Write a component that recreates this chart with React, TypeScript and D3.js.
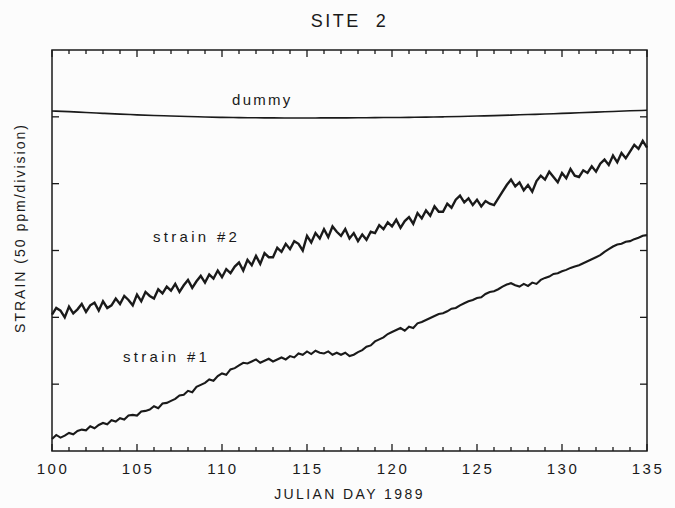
import React from "react";
import * as d3 from "d3";

// Julian day axis
const dayStart = 100;
const dayEnd = 135;
const xTickLabels = [100, 105, 110, 115, 120, 125, 130, 135];

// Strain readings in ppm, sampled every quarter day from day 100 to day 135
const strain2 = [
  102, 107, 105, 100,
  108, 103, 106, 110,
  104, 109, 111, 105,
  112, 107, 109, 114,
  110, 116, 113, 109,
  117, 112, 119, 116,
  114, 121, 118, 123,
  120, 125, 119, 124,
  128, 122, 127, 131,
  126, 132, 129, 135,
  130, 136, 133, 138,
  141, 135, 143, 139,
  146, 140, 148, 145,
  145, 152, 149, 155,
  151, 157, 155, 150,
  161, 156, 163, 159,
  166, 160, 168, 164,
  161, 166, 159, 163,
  157, 162, 158, 164,
  163, 169, 166, 171,
  168, 173, 167, 172,
  175, 170, 178, 174,
  180, 176, 183, 179,
  179, 185, 182, 188,
  191, 186, 189, 184,
  188, 183, 187, 185,
  184, 189, 194, 199,
  203, 198, 201, 195,
  199, 194, 202, 206,
  203, 209, 205, 201,
  208, 204, 211, 206,
  205, 210, 208, 213,
  209, 215, 218, 214,
  221, 216, 223, 219,
  224, 229, 226, 232,
  227,
];

const strain1 = [
  9, 12, 10, 11.5,
  13.5, 12.5, 15, 16,
  15.5, 18.5, 17, 19.5,
  21, 20, 23, 22,
  24.5, 23.5, 26.5, 27,
  26.5, 29.5, 30, 31,
  33.5, 32, 35.5, 36,
  37.5, 39, 41.5, 42,
  45, 44, 48, 49.5,
  51, 53.5, 52.5, 56,
  58, 57, 61, 62,
  64, 66, 65.5, 67,
  68.5, 66, 67.5, 69,
  67, 68.5, 70, 68.5,
  71, 70, 73, 72,
  74.5, 72.5, 75, 73.5,
  73, 74.5, 72, 73.5,
  72, 73.5, 71, 72,
  74, 75.5, 78, 79,
  82, 83.5, 85, 87.5,
  89, 90.5, 92, 90,
  93, 92, 95.5, 96.5,
  98, 99.5, 101, 102.5,
  103, 104.5, 106.5, 107,
  109, 110.5, 112, 113,
  114.5, 115, 117.5, 119,
  119.5, 121, 123, 124.5,
  125.5, 124, 123, 125,
  123.5, 126, 125, 128,
  129.5, 130.5, 132.5, 133,
  134.5, 135.5, 137, 138,
  139, 140.5, 142, 143.5,
  145, 146.5, 149, 151,
  153, 154.5, 155, 156.5,
  157, 158.5, 159.5, 161,
  161.5,
];

// Dummy gauge, one reading per day
const dummy = [
  254.4, 253.9, 253.2, 252.6, 252.0, 251.5, 251.0, 250.6, 250.2, 249.9,
  249.6, 249.4, 249.3, 249.2, 249.1, 249.1, 249.2, 249.2, 249.3, 249.4,
  249.5, 249.6, 249.8, 250.0, 250.3, 250.6, 250.9, 251.3, 251.7, 252.1,
  252.6, 253.0, 253.5, 254.0, 254.5, 254.9,
];

const yDivisions = [0, 50, 100, 150, 200, 250, 300];

const W = 675;
const H = 508;
const left = 52;
const right = 647;
const top = 50;
const bottom = 451;
const midX = (left + right) / 2;
const font = "'Liberation Sans', Arial, sans-serif";
const ink = "#1a1a1a";

export default function App() {
  const x = d3.scaleLinear().domain([dayStart, dayEnd]).range([left, right]);
  const y = d3.scaleLinear().domain([0, 300]).range([bottom, top]);

  const quarter = (i: number) => dayStart + i * 0.25;
  const line = d3
    .line<number>()
    .x((_, i) => x(quarter(i)))
    .y((v) => y(v));
  const dailyLine = d3
    .line<number>()
    .x((_, i) => x(dayStart + i))
    .y((v) => y(v))
    .curve(d3.curveMonotoneX);

  const dayTicks = d3.range(dayStart, dayEnd + 1);

  return (
    <svg
      width={W}
      height={H}
      style={{ position: "absolute", left: 0, top: 0, background: "#fcfcfc" }}
    >
      <rect x={0} y={0} width={W} height={H} fill="#fcfcfc" />
      <text
        x={midX}
        y={27}
        textAnchor="middle"
        fontFamily={font}
        fontSize={18}
        letterSpacing={2.5}
        fill={ink}
        style={{ whiteSpace: "pre" }}
      >
        {"SITE  2"}
      </text>

      {/* day ticks, top and bottom, pointing inward */}
      {dayTicks.map((d) => {
        const major = (d - dayStart) % 5 === 0;
        const len = major ? 7 : 4;
        return (
          <g key={d} stroke={ink} strokeWidth={1.3}>
            <line x1={x(d)} x2={x(d)} y1={bottom} y2={bottom - len} />
            <line x1={x(d)} x2={x(d)} y1={top} y2={top + len} />
          </g>
        );
      })}

      {/* strain division ticks, left and right */}
      {yDivisions.slice(1, -1).map((v) => (
        <g key={v} stroke={ink} strokeWidth={1.3}>
          <line x1={left} x2={left + 7} y1={y(v)} y2={y(v)} />
          <line x1={right} x2={right - 7} y1={y(v)} y2={y(v)} />
        </g>
      ))}

      <rect
        x={left}
        y={top}
        width={right - left}
        height={bottom - top}
        fill="none"
        stroke={ink}
        strokeWidth={1.5}
      />

      {xTickLabels.map((d) => (
        <text
          key={d}
          x={x(d) + 1}
          y={474}
          textAnchor="middle"
          fontFamily={font}
          fontSize={15}
          letterSpacing={2.5}
          fill={ink}
        >
          {d}
        </text>
      ))}

      <text
        x={midX}
        y={499}
        textAnchor="middle"
        fontFamily={font}
        fontSize={14}
        letterSpacing={2.4}
        fill={ink}
      >
        JULIAN DAY 1989
      </text>

      <text
        transform={`translate(25, 228) rotate(-90)`}
        textAnchor="middle"
        fontFamily={font}
        fontSize={14}
        letterSpacing={2}
        fill={ink}
      >
        STRAIN (50 ppm/division)
      </text>

      <path d={dailyLine(dummy) ?? ""} fill="none" stroke={ink} strokeWidth={1.6} />
      <path
        d={line(strain2) ?? ""}
        fill="none"
        stroke={ink}
        strokeWidth={2.4}
        strokeLinejoin="miter"
      />
      <path
        d={line(strain1) ?? ""}
        fill="none"
        stroke={ink}
        strokeWidth={2.1}
        strokeLinejoin="miter"
      />

      <g fontFamily={font} fontSize={15} fill={ink}>
        <text x={232} y={105} letterSpacing={2.3}>dummy</text>
        <text x={153} y={242} letterSpacing={3.3}>strain #2</text>
        <text x={123} y={362} letterSpacing={3.3}>strain #1</text>
      </g>
    </svg>
  );
}
